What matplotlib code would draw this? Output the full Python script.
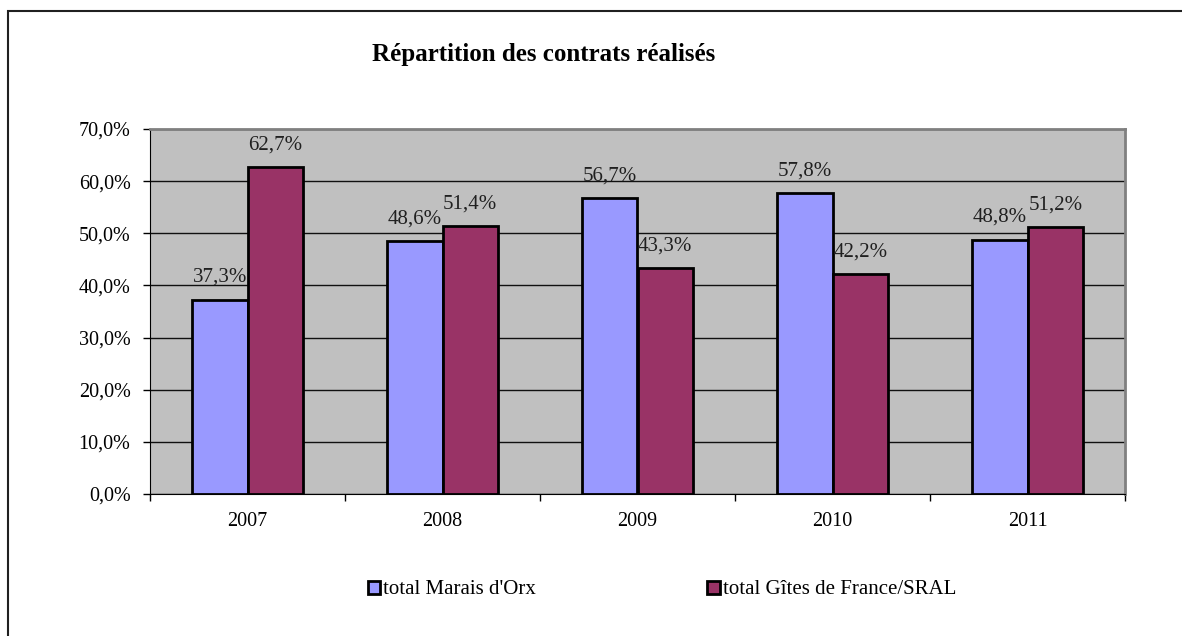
import numpy as np
import matplotlib.pyplot as plt
from matplotlib.patches import Rectangle

plt.rcParams['font.family'] = ['Liberation Serif', 'DejaVu Serif']

# données
annees = ['2007', '2008', '2009', '2010', '2011']
marais = [37.3, 48.6, 56.7, 57.8, 48.8]
gites = [62.7, 51.4, 43.3, 42.2, 51.2]
noms = ["total Marais d'Orx", "total Gîtes de France/SRAL"]
titre = "Répartition des contrats réalisés"

fig = plt.figure(figsize=(11.82, 6.36), dpi=100)

# cadre extérieur
fig.patches.append(Rectangle((8 / 1182, -0.1), 1.2, 1 - 11 / 636 + 0.1,
                             transform=fig.transFigure, fill=False,
                             edgecolor='#202020', linewidth=1.5))

ax = fig.add_axes([150 / 1182, 1 - 494 / 636, 975 / 1182, 365 / 636])
ax.set_facecolor('#C0C0C0')

x = np.arange(len(annees))
w = 0.285
b1 = ax.bar(x - w / 2, marais, w, color='#9999FF', edgecolor='black', linewidth=2, zorder=3, label=noms[0])
b2 = ax.bar(x + w / 2, gites, w, color='#993366', edgecolor='black', linewidth=2, zorder=3, label=noms[1])

for bars, vals in [(b1, marais), (b2, gites)]:
    for r, v in zip(bars, vals):
        ax.annotate(f"{v:.1f}%".replace('.', ','),
                    (r.get_x() + r.get_width() / 2, v), xytext=(0, 9),
                    textcoords='offset points', ha='center', va='bottom',
                    fontsize=15, color='#202020', zorder=4)

ax.set_xlim(-0.5, len(annees) - 0.5)
ax.set_ylim(0, 70)
ax.set_yticks(np.arange(0, 71, 10))
ax.set_yticklabels([f"{v:.1f}%".replace('.', ',') for v in np.arange(0, 71, 10)], fontsize=14.5)
ax.yaxis.grid(True, color='#101010', linewidth=1, zorder=1)

# ticks aux frontières des catégories
ax.set_xticks(np.arange(-0.5, len(annees)), minor=False)
ax.set_xticklabels([])
ax.set_xticks(x, minor=True)
ax.set_xticklabels(annees, minor=True, fontsize=14.5)
ax.tick_params(axis='x', which='minor', length=0, pad=13)
ax.tick_params(axis='x', which='major', length=5, width=1, direction='out')
ax.tick_params(axis='y', length=5, width=1, direction='out', pad=9)

for s in ['top', 'right']:
    ax.spines[s].set_color('#808080')
    ax.spines[s].set_linewidth(2)
ax.spines['left'].set_color('black')
ax.spines['bottom'].set_color('black')

fig.text(544 / 1182, 1 - 55 / 636, titre, ha='center', va='center',
         fontsize=18, fontweight='bold')

fig.legend(loc='center', bbox_to_anchor=(662 / 1182, 1 - 590 / 636), ncol=2,
           frameon=False, fontsize=15, handlelength=0.6, handleheight=0.6,
           handletextpad=0.15, columnspacing=8.2)

plt.savefig('out.png', dpi=100)
